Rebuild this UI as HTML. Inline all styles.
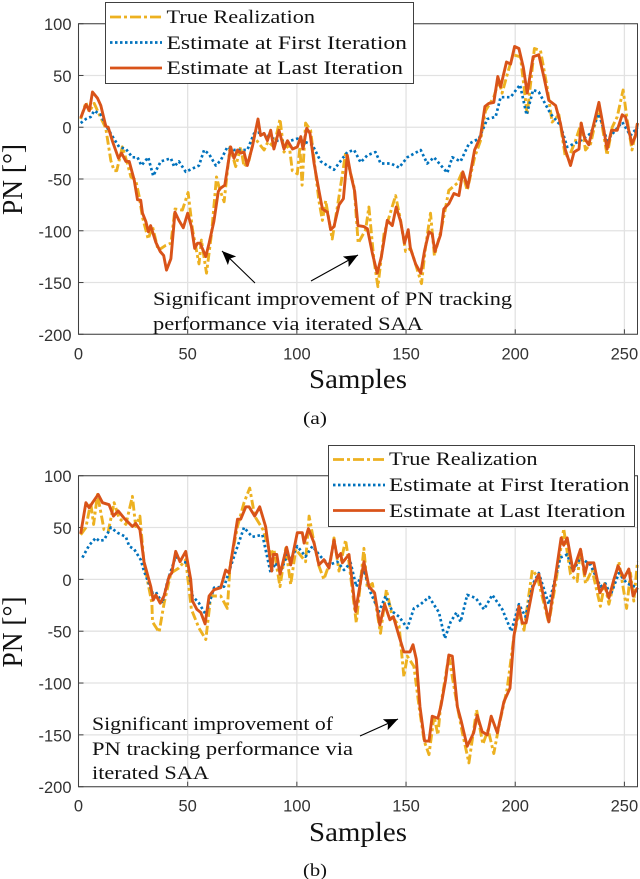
<!DOCTYPE html>
<html>
<head>
<meta charset="utf-8">
<title>PN tracking charts</title>
<style>
html,body{margin:0;padding:0;background:#fff;width:640px;height:879px;overflow:hidden}
svg{display:block;filter:blur(0.35px)}
.serif{font-family:"Liberation Serif",serif;fill:#111}
.tick{font-family:"Liberation Sans",sans-serif;font-size:16.5px;fill:#333}
</style>
</head>
<body>
<svg id="fig" width="640" height="879" viewBox="0 0 640 879">
<defs>
<marker id="ah" viewBox="0 0 14 12" refX="14" refY="6" markerWidth="14" markerHeight="12" markerUnits="userSpaceOnUse" orient="auto"><path d="M0 0 L14 6 L0 12 L3 6 Z" fill="#000"/></marker>
</defs>

<g id="plot-a"></g>
<text class="serif" x="22" y="179.5" font-size="28" text-anchor="middle" textLength="71" lengthAdjust="spacingAndGlyphs" transform="rotate(-90 22 179.5)">PN [°]</text>
<text class="serif" x="309" y="388" font-size="27" textLength="98" lengthAdjust="spacingAndGlyphs">Samples</text>
<text class="serif" x="303" y="424" font-size="18" textLength="24" lengthAdjust="spacingAndGlyphs">(a)</text>
<g>
<rect x="105.5" y="2.5" width="308" height="81" fill="#fff" stroke="#404040" stroke-width="1"/>
<line x1="110" x2="162" y1="17" y2="17" stroke="#EDB120" stroke-width="2.8" stroke-dasharray="11 3 3 3"/>
<text class="serif" x="166.5" y="23" font-size="18.5" textLength="148.5" lengthAdjust="spacingAndGlyphs">True Realization</text>
<line x1="110" x2="162" y1="42.5" y2="42.5" stroke="#0072BD" stroke-width="2.7" stroke-dasharray="2.5 2.5"/>
<text class="serif" x="166.5" y="49" font-size="18.5" textLength="240.5" lengthAdjust="spacingAndGlyphs">Estimate at First Iteration</text>
<line x1="110" x2="162" y1="68" y2="68" stroke="#D95319" stroke-width="2.8"/>
<text class="serif" x="166.5" y="74" font-size="18.5" textLength="236.5" lengthAdjust="spacingAndGlyphs">Estimate at Last Iteration</text>
</g>
<text class="serif" x="153" y="305" font-size="18.5" textLength="359" lengthAdjust="spacingAndGlyphs">Significant improvement of PN tracking</text>
<text class="serif" x="153" y="330" font-size="18.5" textLength="270" lengthAdjust="spacingAndGlyphs">performance via iterated SAA</text>
<line x1="255" y1="283" x2="222" y2="251" stroke="#000" stroke-width="1.1" marker-end="url(#ah)"/>
<line x1="311" y1="281" x2="358" y2="255" stroke="#000" stroke-width="1.1" marker-end="url(#ah)"/>

<g id="plot-b"></g>
<text class="serif" x="22" y="632" font-size="28" text-anchor="middle" textLength="71" lengthAdjust="spacingAndGlyphs" transform="rotate(-90 22 632)">PN [°]</text>
<text class="serif" x="309" y="841" font-size="27" textLength="98" lengthAdjust="spacingAndGlyphs">Samples</text>
<text class="serif" x="303" y="876" font-size="18" textLength="24" lengthAdjust="spacingAndGlyphs">(b)</text>
<g>
<rect x="328.5" y="445.5" width="306" height="81" fill="#fff" stroke="#404040" stroke-width="1"/>
<line x1="333" x2="385" y1="459.5" y2="459.5" stroke="#EDB120" stroke-width="2.8" stroke-dasharray="11 3 3 3"/>
<text class="serif" x="389" y="465" font-size="18.5" textLength="148.5" lengthAdjust="spacingAndGlyphs">True Realization</text>
<line x1="333" x2="385" y1="485" y2="485" stroke="#0072BD" stroke-width="2.7" stroke-dasharray="2.5 2.5"/>
<text class="serif" x="389" y="491" font-size="18.5" textLength="240.5" lengthAdjust="spacingAndGlyphs">Estimate at First Iteration</text>
<line x1="333" x2="385" y1="510.5" y2="510.5" stroke="#D95319" stroke-width="2.8"/>
<text class="serif" x="389" y="517" font-size="18.5" textLength="236.5" lengthAdjust="spacingAndGlyphs">Estimate at Last Iteration</text>
</g>
<text class="serif" x="92" y="730" font-size="18.5" textLength="241" lengthAdjust="spacingAndGlyphs">Significant improvement of</text>
<text class="serif" x="92" y="755" font-size="18.5" textLength="261" lengthAdjust="spacingAndGlyphs">PN tracking performance via</text>
<text class="serif" x="92" y="779" font-size="18.5" textLength="117" lengthAdjust="spacingAndGlyphs">iterated SAA</text>
<line x1="360" y1="736" x2="398" y2="719" stroke="#000" stroke-width="1.1" marker-end="url(#ah)"/>
</svg>

<script>
const xTickValues = [0, 50, 100, 150, 200, 250];
const yTickValues = [100, 50, 0, -50, -100, -150, -200];
const xTickLabels = ["0", "50", "100", "150", "200", "250"];
const yTickLabels = ["100", "50", "0", "-50", "-100", "-150", "-200"];

const trueSamplesA = [1,3.4,4.9,7.2,8.7,12.5,14.8,16.3,17.5,20.1,
22.4,24,26.2,27.8,29.3,31.9,33.9,36.5,40,42.3,
44.2,47.6,50.2,52.2,55.2,56.3,58.6,60.9,63.2,64.4,
66.7,69.4,72,74.3,75.8,78.1,80.4,82.7,85,86.8,
89.5,92.3,94.1,96.4,97.9,100.2,101.4,102.4,104,106.3,
110.1,111.7,113.2,116.2,119.3,122.3,126.2,128.1,131.5,133,
135.3,137.1,139.9,142.2,145.2,147.5,149.8,152.1,153.6,157.1,
158.9,161.2,163,166.1,167.6,169.6,173.5,175.7,178,181.4,
184.1,186.4,190.2,192.5,194,196.6,199,202.4,205.5,208.8,
211.6,214.6,216.9,220,223,225.3,227.6,230.2,232.2,234.5,
238.3,242.1,244.4,246.7,249.4,251.3,253.5,256];
const trueValuesA = [8,24,15,23,16,-1,-32,-42,-42,-19,
-35,-48,-51,-67,-87,-108,-96,-119,-114,-112,
-79,-80,-63,-99,-132,-109,-141,-103,-48,-58,
-72,-19,-38,-19,-38,-32,-9,-16,-22,-14,
-19,8,-24,-16,-42,-45,-19,-56,4,-3,
-71,-90,-71,-108,-67,-25,-58,-112,-99,-77,
-128,-154,-103,-87,-66,-90,-120,-117,-127,-151,
-116,-83,-124,-99,-83,-61,-54,-43,-61,-29,
-13,16,29,45,33,53,70,68,12,76,
74,39,5,12,-29,-25,-13,4,-22,-16,
20,-27,0,10,36,7,-22,4];

const firstSamplesA = [1,3.4,5.6,7.2,10.2,12.5,15.6,18.6,21.7,24.7,
27,28.8,31.9,34.2,37.7,42.3,43.8,46,49.1,55.2,
57.5,59.8,62.9,65.1,68.2,71.2,77.3,80.4,83.4,86.5,
91,95.7,100.2,103.3,107.1,110.9,117,123.1,126.2,129.2,
132.3,136,138.4,143,146.8,150.6,156.7,159.7,162.8,168.9,
171.2,175,178.8,183.4,187.2,191,193.3,197.9,202.2,205.2,
208.2,210.8,216.2,220.7,223.8,229.9,234.5,238.3,242.1,245.1,
249,252.8,256];
const firstValuesA = [4,8,10,16,12,2,-9,-19,-21,-29,
-29,-37,-29,-47,-33,-30,-38,-33,-43,-37,
-22,-26,-37,-32,-19,-22,-22,-6,-5,-8,
-13,-14,-11,-14,-17,-33,-41,-24,-22,-34,
-27,-24,-35,-35,-39,-29,-22,-35,-29,-44,
-29,-33,-16,-11,8,10,29,29,41,12,
36,34,13,2,-19,-13,-6,13,-13,-5,
5,-8,0];

const lastSamplesA = [1,3.4,5,6.4,8.7,10.2,12.5,13.6,15.6,18.3,
19.7,21.7,23.2,25.5,27,28.5,29.3,30.8,32,33,
35.4,37.4,39,40.3,42.3,44.2,46,48,50,51.7,
53.2,54.5,55.7,58.3,59.8,62,64,65,67,69.7,
71.2,72.8,74.3,75.8,77.3,79.6,82.2,83.4,85,86.5,
88,89.5,91.8,94.1,95.7,98,100.2,101.8,102.8,104.5,
106,107.9,110.1,111.7,114,115.5,117,119.3,121.3,123.1,
124.6,126.5,128,130.7,132.3,134.6,136.8,138.7,141.4,143.7,
145.5,147.5,149.3,151,152,154.4,156.7,158.5,160.5,162,
163.2,165.8,167.3,169.6,171.9,174.2,176,178.3,181.4,184.1,
186.1,187.9,190.2,192,193.3,196,197.9,199.7,201.7,203.7,
205.5,208.2,210.8,213.1,215.4,218.5,220.7,223,225.3,226.9,
229.2,230.2,231.8,233.7,238.3,239.8,242.1,244.1,246.7,249,
250.5,253.5,255,256];
const lastValuesA = [9,22,16,34,28,21,1,0,-14,-30,
-25,-33,-33,-51,-70,-70.5,-83,-91,-101,-95,
-111,-120,-124,-138,-127,-82,-90,-97,-83,-96,
-117,-112,-112,-125,-112,-91,-62,-59,-56,-19,
-30,-22,-25,-24,-37,-19,8,-8,-6,-13,
-3,-21,-3,-21,-13,-21,-19,-9,-21,-1,
-6,-35,-61,-79,-82,-99,-96,-75,-69,-27,
-45,-62,-95,-96,-98,-122,-141,-125,-90,-95,
-77,-91,-112,-99,-117,-132,-141,-119,-101,-103,
-120,-104,-79,-74,-64,-66,-43,-58,-22,-9,
20,23,24,49,39,63,61,78,76,58,
33,68,70,49,26,21,4,-22,-37,-24,
-21,4,-11,-17,24,7,-21,-3,-3,12,
10,-16,-9,4];

const trueSamplesB = [1,3.4,5.6,6.9,8.7,11.7,13.6,16.3,18.6,21.7,
24.7,26.2,28.1,30,33.6,33.9,36.9,39.2,42.3,46,
49.1,51.7,55.2,58.3,60.6,65.1,68.2,69.4,72.8,75.8,
78.4,80.7,84.5,88,89.5,92.3,94.9,97.2,99.5,104,
105.6,107.9,110.1,112.4,115.5,117,119.3,122.3,123.9,127.2,
130.7,132.2,134.6,138.3,141,143.7,146.8,149,150.6,153.6,
156,158.3,160.5,162.8,164.6,165.8,169.6,173.5,175.8,178.8,
182.3,185.2,187.6,190.2,192.5,196.3,199.4,201.7,204,207.8,
210,215.4,218.5,222.2,225.3,228.4,229.9,232.2,235.2,239,
241,242.9,247.5,251,252.8,254.3,256];
const trueValuesB = [43,50,74,53,82,48,46,74,59,53,
80,51,61,16,-23,-41,-51,-23,6,11,
19,-29,-47,-58,-16,-16,-28,13,51,74,
88,61,48,24,29,-7,30,-5,29,17,
61,35,13,0,19,40,8,38,16,-42,
30,-8,-4,-52,-10,-36,-45,-94,-74,-84,
-123,-156,-169,-132,-150,-123,-74,-123,-148,-177,
-126,-159,-145,-168,-142,-106,-55,-32,-49,9,
3,-42,-4,49,5,-2,30,-4,9,-26,
-4,-24,17,-28,6,-21,17];

const firstSamplesB = [1.8,4.9,7.9,9.5,11.7,14.8,17.8,21.7,23.2,25.5,
28.5,30,33.9,35.4,38.4,40.7,44.5,47.6,49.9,52.2,
55.2,58.3,62.1,66.7,71.2,75.8,79.6,84.2,88,90.3,
92.6,95.7,97.2,100.2,104,107.1,110.9,114.7,118.5,121.6,
124.6,127.2,130.7,133.8,137.6,140.7,143.7,146.8,150.6,153.6,
156.7,160.5,165.1,167.8,170.4,173.1,175,178,181.9,185.7,
189.5,194.1,198.2,201.7,204.7,208.2,210.8,215.4,220.7,223.8,
226.5,229.9,234.5,239,241.3,243.7,247.5,251.2,256];
const firstValuesB = [21,33,40,37,38,50,45,41,32,29,
19,8,-13,-12,-23,-2,22,17,16,-16,
-23,-34,-8,-7,22,50,41,43,6,16,
8,24,19,32,22,32,22,14,17,9,
16,-7,9,-13,-31,-16,-31,-36,-47,-28,
-24,-17,-32,-57,-41,-32,-41,-15,-18,-29,
-15,-29,-50,-24,-36,-4,6,-24,21,24,
8,21,14,-7,-4,-15,6,-4,-8];

const lastSamplesB = [1,3.4,4.9,6.4,9,11,14,16,18.2,20.9,
24.7,26.2,28.1,30,33.1,34.2,35.4,37.4,39.2,41.5,
42.7,44.5,46.5,49.1,51.4,52.2,54.2,56,58,59.8,
62.1,65.1,67.4,69,72.8,74.3,76.6,78.1,80.7,83,
85.7,88.5,89.2,90.8,92.3,95.3,97.2,100.2,102.5,103.3,
105.3,107.9,110.1,112.4,114.7,117,118.5,120.1,120.8,123.9,
126.9,130.7,133,135.6,138,140.2,142.6,144.2,146.8,149,
151.8,153.2,154.7,156.4,158.5,160.5,162,164.6,166.1,168.1,
169.6,171.2,173.5,175.3,178,181,182.6,184.9,187.2,189,
191.8,194.8,197.6,199.4,201.7,203.2,205,208.2,210.8,215.4,
221,222.2,223.8,226.5,229.9,231.9,233.2,236,238.8,240.9,
242.9,245.2,247.1,249.8,252,254,256];
const lastValuesB = [44,74,69,74,82,74,72,61,66,59,
51,54,48,17,-7,-20,-15,-23,-16,3,
6,27,17,27,0,-21,-29,-32,-43,-16,
-10,-8,9,6,58,58,70,70,61,70,
51,8,24,24,5,31,14,45,45,35,
49,35,14,19,11,38,21,25,16,24,
-31,17,-7,-13,-44,-24,-39,-36,-55,-70,
-70,-63,-77,-123,-156,-156,-132,-134,-121,-97,
-73,-74,-123,-137,-161,-148,-131,-147,-150,-132,
-148,-118,-105,-55,-26,-42,-42,-7,5,-41,
40,33,40,8,29,5,16,16,-13,-5,
-18,0,13,1,10,-16,-8];

const NS = "http://www.w3.org/2000/svg";
function el(tag, attrs) {
  const n = document.createElementNS(NS, tag);
  for (const k in attrs) n.setAttribute(k, attrs[k]);
  return n;
}
function drawPlot(rootId, box, series) {
  const root = document.getElementById(rootId);
  const xScale = v => box.x0 + v * (box.x1 - box.x0) / 256;
  const yScale = v => box.y0 + (100 - v) * (box.y1 - box.y0) / 300;

  xTickValues.forEach((v, i) => {
    const x = xScale(v);
    const g = el("line", {x1: x, x2: x, y1: box.y0, y2: box.y1, stroke: "#e2e2e2", "stroke-width": 1.3});
    
    
    root.appendChild(g);
    const t = el("line", {x1: x, x2: x, y1: box.y1, y2: box.y1 - 5, stroke: "#404040", "stroke-width": 1});
    
    
    root.appendChild(t);
    const l = el("text", {x: x, y: box.y1 + 25, "text-anchor": "middle", class: "tick"});
    
    
    l.textContent = xTickLabels[i];
    root.appendChild(l);
  });
  yTickValues.forEach((v, i) => {
    const y = yScale(v);
    const g = el("line", {x1: box.x0, x2: box.x1, y1: y, y2: y, stroke: "#e2e2e2", "stroke-width": 1.3});
    
    
    root.appendChild(g);
    const t = el("line", {x1: box.x0, x2: box.x0 + 5, y1: y, y2: y, stroke: "#404040", "stroke-width": 1});
    
    
    root.appendChild(t);
    const l = el("text", {x: box.x0 - 7, y: y + 6.5, "text-anchor": "end", class: "tick"});
    
    
    l.textContent = yTickLabels[i];
    root.appendChild(l);
  });

  series.forEach(s => {
    const n = Math.min(s.samples.length, s.values.length);
    const pts = [];
    for (let i = 0; i < n; i++) pts.push(xScale(s.samples[i]).toFixed(1) + "," + yScale(s.values[i]).toFixed(1));
    const p = el("polyline", {points: pts.join(" "), fill: "none", stroke: s.color, "stroke-width": s.width, "stroke-dasharray": s.dash, "stroke-linejoin": "round"});
    
    
    root.appendChild(p);
  });

  const frame = el("path", {d: `M${box.x0} ${box.y0}H${box.x1}V${box.y1}H${box.x0}Z`, fill: "none", stroke: "#404040", "stroke-width": 1});
  
  
  root.appendChild(frame);
}

drawPlot("plot-a", {x0: 78.5, x1: 637.5, y0: 23.7, y1: 334.3}, [
  {name: "series-true-a", samples: trueSamplesA, values: trueValuesA, color: "#EDB120", width: 2.9, dash: "9 3 3 3"},
  {name: "series-first-a", samples: firstSamplesA, values: firstValuesA, color: "#0072BD", width: 2.7, dash: "2.5 2.6"},
  {name: "series-last-a", samples: lastSamplesA, values: lastValuesA, color: "#D95319", width: 2.9, dash: "none"}
]);
drawPlot("plot-b", {x0: 78.5, x1: 637.5, y0: 475.7, y1: 786.7}, [
  {name: "series-true-b", samples: trueSamplesB, values: trueValuesB, color: "#EDB120", width: 2.9, dash: "9 3 3 3"},
  {name: "series-first-b", samples: firstSamplesB, values: firstValuesB, color: "#0072BD", width: 2.7, dash: "2.5 2.6"},
  {name: "series-last-b", samples: lastSamplesB, values: lastValuesB, color: "#D95319", width: 2.9, dash: "none"}
]);
</script>
</body>
</html>
